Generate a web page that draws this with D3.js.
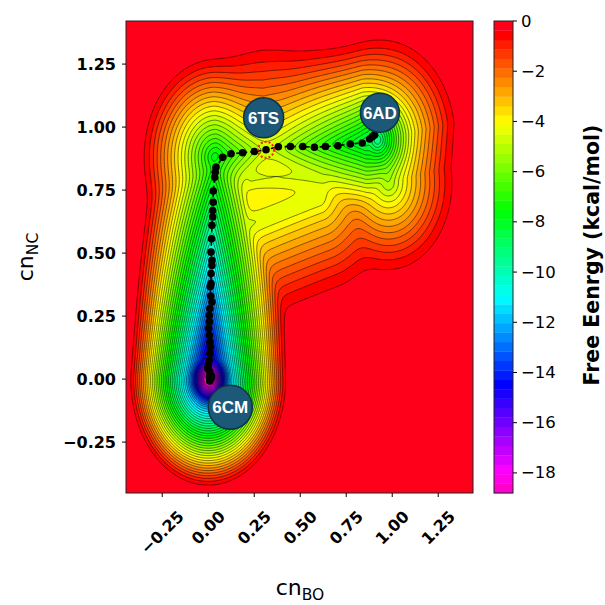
<!DOCTYPE html>
<html><head><meta charset="utf-8">
<script src="https://cdn.jsdelivr.net/npm/d3@7"></script>
<style>body{margin:0;background:#fff}</style>
</head><body>
<svg id="chart" width="605" height="605"></svg>
<script>
// ---------------- data ----------------
// free-energy surface described by basins/valleys: each runs from (x1,y1) to (x2,y2),
// floor energy f1 -> f2 (kcal/mol), wall steepness k1 -> k2 (kcal/mol per unit cn)
const basinName = ["6CM well", "CM valley", "corner", "channel to TS", "channel to AD", "6AD well", "6AD basin", "plateau low", "plateau high"];
const basinX1  = [0.005, 0.00, 0.03, 0.05, 0.314, 0.92, 0.95, 0.24, 0.24];
const basinY1  = [0.000, 0.00, 0.88, 0.89, 0.910, 0.95, 0.95, 0.62, 0.80];
const basinX2  = [0.005, 0.03, 0.03, 0.314, 0.85, 0.92, 0.98, 0.60, 0.62];
const basinY2  = [0.000, 0.87, 0.88, 0.910, 0.94, 0.95, 0.78, 0.72, 0.80];
const basinF1  = [-20.0, -16.0, -7.5, -7.3, -4.5, -9.3, -6.5, -4.5, -4.5];
const basinF2  = [-20.0, -6.7, -7.5, -4.5, -8.4, -9.3, -5.2, -4.4, -4.4];
const basinK1  = [80, 38, 20, 20, 12, 30, 16.5, 12, 12];
const basinK2  = [80, 21, 20, 12, 22, 30, 15, 12, 12];
const basinEps = 0.03;   // rounding of valley floors (cn units)
const blendT = 0.4;      // kcal/mol, blending of basins
const edgeSoft = 0.5;    // kcal/mol, softening toward 0

const levelMin = -18.8, levelMax = 0, levelCount = 50;
const xTicks = [-0.25, 0.00, 0.25, 0.50, 0.75, 1.00, 1.25];
const yTicks = [-0.25, 0.00, 0.25, 0.50, 0.75, 1.00, 1.25];
const cbTicks = [0, -2, -4, -6, -8, -10, -12, -14, -16, -18];

// minimum free-energy path (cn_BO, cn_NC)
const pathX = [0.008,0.015,0.006,0.018,0.009,-0.003,0.000,0.006,0.009,0.011,0.009,0.006,0.002,0.006,0.006,0.009,0.020,0.013,0.011,0.015,0.015,0.020,0.020,0.015,0.018,0.020,0.024,0.024,0.027,0.027,0.035,0.038,0.042,
               0.078,0.124,0.187,0.251,0.314,0.381,0.447,0.514,0.577,0.637,0.705,0.772,0.837,0.877,0.892,0.904];
const pathY = [-0.008,0.003,0.009,0.012,0.029,0.042,0.055,0.075,0.102,0.128,0.148,0.174,0.201,0.227,0.253,0.280,0.306,0.330,0.366,0.379,0.419,0.451,0.471,0.504,0.557,0.610,0.643,0.669,0.702,0.746,0.801,0.821,0.841,
               0.880,0.894,0.898,0.903,0.910,0.922,0.923,0.923,0.920,0.923,0.926,0.933,0.937,0.953,0.962,0.969];
const tsX = 0.314, tsY = 0.910;

const stateText = ["6CM", "6TS", "6AD"];
const stateX = [0.120, 0.301, 0.933];
const stateY = [-0.112, 1.037, 1.057];

const xLabelMain = "cn", xLabelSub = "BO";
const yLabelMain = "cn", yLabelSub = "NC";
const cbLabel = "Free Eenrgy (kcal/mol)";

// ---------------- layout ----------------
const svg = d3.select("#chart");
const L = 126, R = 473, T = 21, B = 493;
const x = d3.scaleLinear().domain([-0.447, 1.439]).range([L, R]);
const y = d3.scaleLinear().domain([-0.452, 1.421]).range([B, T]);

// gist_rainbow (matplotlib), reversed
const gr = [[0,[1,0,0.16]],[0.03,[1,0,0]],[0.215,[1,1,0]],[0.4,[0,1,0]],[0.586,[0,1,1]],[0.77,[0,0,1]],[0.954,[1,0,1]],[1,[1,0,0.75]]];
function gistRainbow(t){
  t = Math.max(0, Math.min(1, t));
  for (let i = 0; i < gr.length - 1; i++) {
    const [a, ca] = gr[i], [b, cb] = gr[i+1];
    if (t <= b) {
      const f = (t - a) / (b - a);
      const c = ca.map((v, k) => Math.round(255 * (v + (cb[k] - v) * f)));
      return `rgb(${c[0]},${c[1]},${c[2]})`;
    }
  }
  return "rgb(255,0,191)";
}
const cmap = t => gistRainbow(1 - t);
const levels = d3.range(levelCount + 1).map(i => levelMin + (levelMax - levelMin) * i / levelCount);
const bandColor = k => cmap(((levels[k] + levels[k+1]) / 2 - levelMin) / (levelMax - levelMin));

// ---------------- surface grid ----------------
function basinEnergy(px, py, i) {
  const ax = basinX1[i], ay = basinY1[i], vx = basinX2[i] - ax, vy = basinY2[i] - ay;
  const l2 = vx*vx + vy*vy;
  let t = l2 > 0 ? ((px - ax) * vx + (py - ay) * vy) / l2 : 0;
  t = Math.max(0, Math.min(1, t));
  const dx = px - (ax + t * vx), dy = py - (ay + t * vy);
  const d2 = dx*dx + dy*dy;
  const ds = d2 / Math.sqrt(d2 + basinEps * basinEps);
  return basinF1[i] + t * (basinF2[i] - basinF1[i]) + (basinK1[i] + t * (basinK2[i] - basinK1[i])) * ds;
}
function freeEnergy(px, py) {
  const fs = basinX1.map((_, i) => basinEnergy(px, py, i));
  const m = d3.min(fs);
  const s = d3.sum(fs, f => Math.exp(-(f - m) / blendT));
  const u = -(m - blendT * Math.log(s));
  const us = u / edgeSoft > 30 ? u : edgeSoft * Math.log(1 + Math.exp(u / edgeSoft));
  return -us;
}
const step = 0.006;
const gx0 = -0.47, gx1 = 1.46, gy0 = -0.47, gy1 = 1.44;
const nx = Math.ceil((gx1 - gx0) / step) + 1, ny = Math.ceil((gy1 - gy0) / step) + 1;
const values = new Float64Array(nx * ny);
for (let j = 0; j < ny; j++) {
  const yy = gy1 - j * step;
  for (let i = 0; i < nx; i++) values[j * nx + i] = -freeEnergy(gx0 + i * step, yy);
}
const thresholds = d3.range(levelCount - 1, 0, -1).map(k => -levels[k]);
const contours = d3.contours().size([nx, ny]).thresholds(thresholds)(values);
const proj = d3.geoTransform({ point: function(px, py) {
  this.stream.point(x(gx0 + (px - 0.5) * step), y(gy1 - (py - 0.5) * step));
}});
const geo = d3.geoPath(proj);

svg.append("clipPath").attr("id", "clip").append("rect")
  .attr("x", L).attr("y", T).attr("width", R - L).attr("height", B - T);
const gPlot = svg.append("g").attr("clip-path", "url(#clip)");
gPlot.append("rect").attr("x", L).attr("y", T).attr("width", R - L).attr("height", B - T)
  .attr("fill", bandColor(levelCount - 1));
contours.forEach(c => {
  const k = levels.findIndex(l => Math.abs(-l - c.value) < 1e-9);
  gPlot.append("path").attr("d", geo(c)).attr("fill", bandColor(k - 1))
    .attr("stroke", bandColor(k - 1)).attr("stroke-width", 0.3);
});
contours.forEach(c => {
  gPlot.append("path").attr("d", geo(c)).attr("fill", "none")
    .attr("stroke", "#000").attr("stroke-opacity", 0.85).attr("stroke-width", 0.6);
});

// path
gPlot.append("path")
  .datum(d3.range(pathX.length))
  .attr("d", d3.line().x(i => x(pathX[i])).y(i => y(pathY[i])))
  .attr("fill", "none").attr("stroke", "#000").attr("stroke-width", 1.6).attr("stroke-dasharray", "4,3");
gPlot.selectAll("circle.pt").data(d3.range(pathX.length)).join("circle")
  .attr("class", "pt").attr("cx", i => x(pathX[i])).attr("cy", i => y(pathY[i])).attr("r", 3.8).attr("fill", "#000");
gPlot.append("circle").attr("cx", x(tsX)).attr("cy", y(tsY)).attr("r", 8)
  .attr("fill", "none").attr("stroke", "#ff1a1a").attr("stroke-width", 2).attr("stroke-dasharray", "2,2");

// state labels
const stateR = [22, 20, 19.5];
stateText.forEach((t, i) => {
  gPlot.append("circle").attr("cx", x(stateX[i])).attr("cy", y(stateY[i])).attr("r", stateR[i])
    .attr("fill", "#1c5877").attr("stroke", "#0f3346").attr("stroke-width", 1.5);
  gPlot.append("text").attr("x", x(stateX[i])).attr("y", y(stateY[i]) + 6)
    .attr("text-anchor", "middle").attr("fill", "#fff")
    .style("font", "bold 17px 'Liberation Sans', Arial, sans-serif").text(t);
});

// frame
svg.append("rect").attr("x", L).attr("y", T).attr("width", R - L).attr("height", B - T)
  .attr("fill", "none").attr("stroke", "#222").attr("stroke-width", 1);

// axes
const tickFont = "bold 16px 'DejaVu Sans', sans-serif";
const fmt = d3.format(".2f");
const gx = svg.append("g");
xTicks.forEach(v => {
  gx.append("line").attr("x1", x(v)).attr("x2", x(v)).attr("y1", B).attr("y2", B + 4).attr("stroke", "#000");
  const t = gx.append("text").style("font", tickFont).attr("text-anchor", "middle")
    .attr("dominant-baseline", "central").text(fmt(v));
  const w = t.node().getComputedTextLength();
  const cy = 507 + (w + 19) / (2 * Math.SQRT2);
  t.attr("transform", `translate(${x(v)},${cy}) rotate(-45)`);
});
const gy = svg.append("g");
yTicks.forEach(v => {
  gy.append("line").attr("x1", L - 4).attr("x2", L).attr("y1", y(v)).attr("y2", y(v)).attr("stroke", "#000");
  gy.append("text").attr("x", 116).attr("y", y(v)).attr("dominant-baseline", "central")
    .attr("text-anchor", "end").style("font", tickFont).text(fmt(v));
});

// axis labels
const xl = svg.append("text").attr("x", 300).attr("y", 595).attr("text-anchor", "middle")
  .style("font", "22px 'DejaVu Sans', sans-serif");
xl.append("tspan").text(xLabelMain);
xl.append("tspan").attr("dy", 4.5).style("font-size", "15.5px").text(xLabelSub);
const yl = svg.append("text").attr("transform", "translate(33,257) rotate(-90)").attr("text-anchor", "middle")
  .style("font", "22px 'DejaVu Sans', sans-serif");
yl.append("tspan").text(yLabelMain);
yl.append("tspan").attr("dy", 4.5).style("font-size", "15.5px").text(yLabelSub);

// colorbar
const cbL = 494, cbR = 513;
const cy = d3.scaleLinear().domain([levelMin, levelMax]).range([B, T]);
const gcb = svg.append("g");
d3.range(levelCount).forEach(k => {
  gcb.append("rect").attr("x", cbL).attr("width", cbR - cbL)
    .attr("y", cy(levels[k+1])).attr("height", cy(levels[k]) - cy(levels[k+1]) + 0.3)
    .attr("fill", bandColor(k));
});
gcb.append("rect").attr("x", cbL).attr("y", T).attr("width", cbR - cbL).attr("height", B - T)
  .attr("fill", "none").attr("stroke", "#222").attr("stroke-width", 1);
const cfmt = d3.format("d");
cbTicks.forEach(v => {
  gcb.append("line").attr("x1", cbR).attr("x2", cbR + 4).attr("y1", cy(v)).attr("y2", cy(v)).attr("stroke", "#000");
  gcb.append("text").attr("x", cbR + 8).attr("y", cy(v)).attr("dominant-baseline", "central")
    .style("font", "16.5px 'DejaVu Sans', sans-serif").text(cfmt(v));
});
svg.append("text").attr("transform", "translate(599,255) rotate(-90)").attr("text-anchor", "middle")
  .style("font", "bold 20.5px 'DejaVu Sans', sans-serif").text(cbLabel);
</script>
</body></html>
